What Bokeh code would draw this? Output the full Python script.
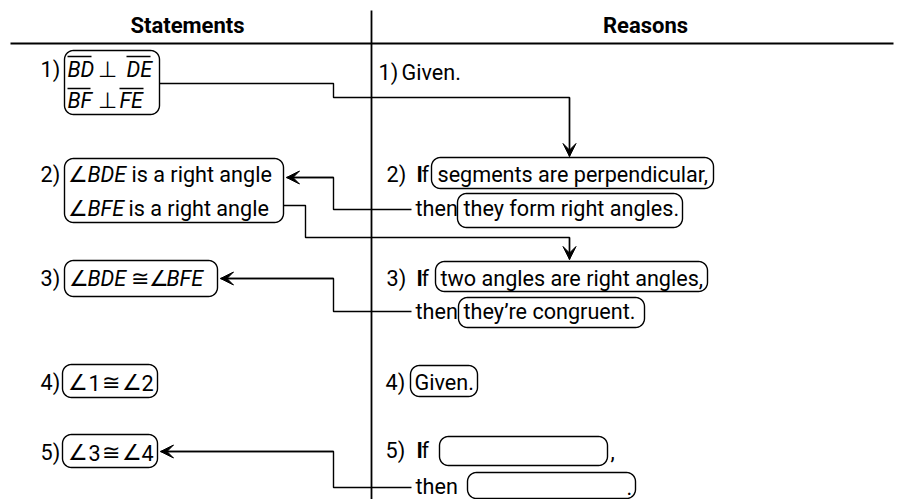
import math
from bokeh.plotting import figure
from bokeh.models import Range1d, Arrow, VeeHead, ColumnDataSource
from bokeh.core.properties import value
from bokeh.embed import file_html
from bokeh.resources import INLINE

# ---------------- content ----------------
headers = ["Statements", "Reasons"]
step_labels = ["1)", "2)", "3)", "4)", "5)"]

# statement text runs: (text, style)
stmt_runs = [
    ("BD", "italic"), ("⊥", "normal"), ("DE", "italic"),
    ("BF", "italic"), ("⊥", "normal"), ("FE", "italic"),
    ("∠", "normal"), ("BDE", "italic"), ("is a right angle", "normal"),
    ("∠", "normal"), ("BFE", "italic"), ("is a right angle", "normal"),
    ("∠", "normal"), ("BDE", "italic"), ("≅", "normal"), ("∠", "normal"), ("BFE", "italic"),
    ("∠", "normal"), ("1", "normal"), ("≅", "normal"), ("∠", "normal"), ("2", "normal"),
    ("∠", "normal"), ("3", "normal"), ("≅", "normal"), ("∠", "normal"), ("4", "normal"),
]
# reason text runs: (text, style)
reason_runs = [
    ("Given.", "normal"),
    ("I", "bold"), ("f", "normal"), ("segments are perpendicular,", "normal"),
    ("then", "normal"), ("they form right angles.", "normal"),
    ("I", "bold"), ("f", "normal"), ("two angles are right angles,", "normal"),
    ("then", "normal"), ("they\u2019re congruent.", "normal"),
    ("Given.", "normal"),
    ("I", "bold"), ("f", "normal"), (",", "normal"),
    ("then", "normal"), (".", "normal"),
]

# ---------------- layout (screen pixels) ----------------
stmt_x = [67, 97, 126, 67, 97, 119,
          67, 87, 131, 67, 87, 128,
          68, 87, 130, 148, 166,
          67, 88, 101, 121, 141,
          67, 88, 101, 121, 141]
stmt_y = [77, 77, 77, 108, 108, 108,
          182, 182, 182, 216, 216, 216,
          286, 286, 286, 286, 286,
          390, 390, 390, 390, 390,
          460, 460, 460, 460, 460]
reason_x = [401,
            416, 421, 437,
            415, 463,
            416, 421, 440,
            415, 463,
            414,
            416, 421, 610,
            415, 626]
reason_y = [80,
            182, 182, 182,
            216, 216,
            286, 286, 286,
            319, 319,
            390,
            458, 458, 458,
            494, 494]
stmt_label_x = [40, 40, 40, 40, 40]
stmt_label_y = [77, 182, 286, 390, 460]
reason_label_x = [378, 386, 386, 385, 385]
reason_label_y = [80, 182, 286, 390, 458]

overline_x0 = [67, 126, 67, 119]
overline_x1 = [91, 150, 90, 143]
overline_y = [56, 56, 88, 88]

# boxes: x0, y0, x1, y1
box_x0 = [64, 64, 64, 62, 62, 431, 457, 435, 458, 410, 439, 467]
box_y0 = [50, 158, 260, 364, 434, 157, 193, 261, 297, 365, 436, 472]
box_x1 = [159, 283, 217, 157, 157, 713, 682, 707, 644, 477, 607, 635]
box_y1 = [114, 222, 296, 397, 467, 188, 227, 291, 327, 396, 465, 498]

# connectors (polylines, last segment carries the arrow head)
conn_xs = [[159, 333, 333, 569, 569],
           [411, 333, 333, 286],
           [283, 305, 305, 569, 569],
           [411, 333, 333, 220],
           [411, 333, 333, 160]]
conn_ys = [[83, 83, 97, 97, 156],
           [209, 209, 177, 177],
           [205, 205, 237, 237, 259],
           [311, 311, 278, 278],
           [487, 487, 451, 451]]

FONT = "Roboto"
BODY = "21.6px"
YOFF = -8

p = figure(width=903, height=499, x_range=Range1d(0, 903), y_range=Range1d(499, 0),
           x_axis_type=None, y_axis_type=None, output_backend="svg",
           toolbar_location=None, min_border=0)
p.grid.visible = False
p.outline_line_color = None
p.background_fill_color = "white"
p.border_fill_color = "white"

# header line and divider
p.segment(x0=[10], y0=[43], x1=[893], y1=[43], line_color="black", line_width=2.2)
p.segment(x0=[371], y0=[10], x1=[371], y1=[499], line_color="black", line_width=1.8)

# headers
p.text(x=[187, 645], y=[33, 33], text=headers, text_font=value(FONT),
       text_font_size="22px", text_font_style="bold", text_align="center",
       text_baseline="alphabetic", text_color="black", y_offset=YOFF)

# rounded boxes
def rbox(x0, y0, x1, y1, r=9):
    xs, ys = [], []
    corners = [(x1 - r, y0 + r, -90), (x1 - r, y1 - r, 0), (x0 + r, y1 - r, 90), (x0 + r, y0 + r, 180)]
    for cx, cy, a0 in corners:
        for k in range(10):
            a = math.radians(a0 + 90 * k / 9)
            xs.append(cx + r * math.cos(a))
            ys.append(cy + r * math.sin(a))
    return xs, ys

bxs, bys = [], []
for a, b, c, d in zip(box_x0, box_y0, box_x1, box_y1):
    xs, ys = rbox(a, b, c, d)
    bxs.append(xs)
    bys.append(ys)
p.patches(xs=bxs, ys=bys, fill_color="white", line_color="black", line_width=1.4)

# connectors
p.multi_line(xs=conn_xs, ys=conn_ys, line_color="black", line_width=1.4)
for xs, ys in zip(conn_xs, conn_ys):
    p.add_layout(Arrow(end=VeeHead(size=13, fill_color="black", line_color="black", line_width=1),
                       x_start=xs[-2], y_start=ys[-2], x_end=xs[-1], y_end=ys[-1],
                       line_color="black", line_width=1.4))

# labels
p.text(x=stmt_label_x, y=stmt_label_y, text=step_labels, text_font=value(FONT),
       text_font_size=BODY, text_baseline="alphabetic", text_color="black", y_offset=YOFF)
p.text(x=reason_label_x, y=reason_label_y, text=step_labels, text_font=value(FONT),
       text_font_size=BODY, text_baseline="alphabetic", text_color="black", y_offset=YOFF)

# statement runs
for style in ["normal", "italic"]:
    idx = [i for i, r in enumerate(stmt_runs) if r[1] == style]
    src = ColumnDataSource(dict(x=[stmt_x[i] for i in idx], y=[stmt_y[i] for i in idx],
                                t=[stmt_runs[i][0] for i in idx]))
    p.text(x="x", y="y", text="t", source=src, text_font=value(FONT),
           text_font_size=BODY, text_font_style=style, text_baseline="alphabetic",
           text_color="black", y_offset=YOFF)

# reason runs
for style in ["normal", "bold"]:
    idx = [i for i, r in enumerate(reason_runs) if r[1] == style]
    src = ColumnDataSource(dict(x=[reason_x[i] for i in idx], y=[reason_y[i] for i in idx],
                                t=[reason_runs[i][0] for i in idx]))
    p.text(x="x", y="y", text="t", source=src, text_font=value(FONT),
           text_font_size=BODY, text_font_style=style, text_baseline="alphabetic",
           text_color="black", y_offset=YOFF)

# overlines
p.segment(x0=overline_x0, y0=overline_y, x1=overline_x1, y1=overline_y,
          line_color="black", line_width=1.3)

open("out.html", "w").write(file_html(p, INLINE))
